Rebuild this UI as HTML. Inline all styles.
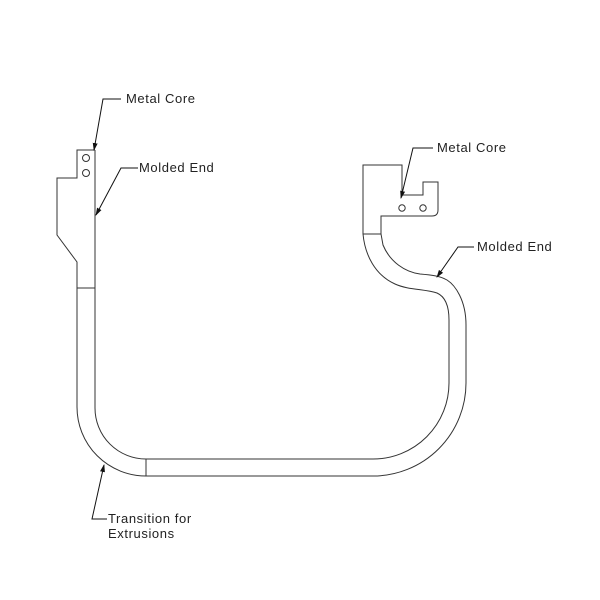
<!DOCTYPE html>
<html><head><style>
html,body{margin:0;padding:0;background:#fff;}
svg{display:block;}
text{font-family:"Liberation Sans",sans-serif;font-size:13px;letter-spacing:0.6px;fill:#222;}
</style></head><body>
<svg width="600" height="600" viewBox="0 0 600 600" xmlns="http://www.w3.org/2000/svg">
<defs>
<marker id="ar" markerWidth="8" markerHeight="8" refX="7" refY="4" orient="auto" markerUnits="userSpaceOnUse">
<path d="M0,1.5 L8,4 L0,6.5 Z" fill="#111"/>
</marker>
</defs>
<g fill="none" stroke="#333" stroke-width="1">
<path d="M95,150 L77,150 L77,178 L57,178 L57,235 L77,262 L77,407 A69,69 0 0 0 146,476 L373,476 A93,93 0 0 0 466,383 L466,325 C466,300 455,285 447,280 C440,276 432,275 420,274 C405,272 390,262 383,245 L381,234 L381,216 L432,216 Q438,216 438,210 L438,182 L423,182 L423,195 L402,195 L402,165 L363,165 L363,234 C365,255 375,275 395,284 C408,290 425,289 437,293 C446,297 449,308 449,320 L449,383 A76,76 0 0 1 373,459 L146,459 A51,51 0 0 1 95,408 L95,150"/>
<line x1="77" y1="288" x2="95" y2="288"/>
<line x1="146" y1="459" x2="146" y2="476"/>
<line x1="363" y1="234" x2="381" y2="234"/>
<circle cx="86" cy="158" r="3.5"/>
<circle cx="86" cy="173" r="3.5"/>
<circle cx="402" cy="208" r="3.2"/>
<circle cx="423" cy="208" r="3.2"/>
</g>
<g fill="none" stroke="#111" stroke-width="1">
<polyline points="121,99 103,99 94,150" marker-end="url(#ar)"/>
<polyline points="138,168 121,168 96,215" marker-end="url(#ar)"/>
<polyline points="433,148 413,148 401,198" marker-end="url(#ar)"/>
<polyline points="474,247 458,247 437,277" marker-end="url(#ar)"/>
<polyline points="107,519 92,519 104,465" marker-end="url(#ar)"/>
</g>
<text x="126" y="103">Metal Core</text>
<text x="139" y="172">Molded End</text>
<text x="437" y="152">Metal Core</text>
<text x="477" y="251">Molded End</text>
<text x="108" y="523">Transition for</text>
<text x="108" y="538">Extrusions</text>
</svg>
</body></html>
